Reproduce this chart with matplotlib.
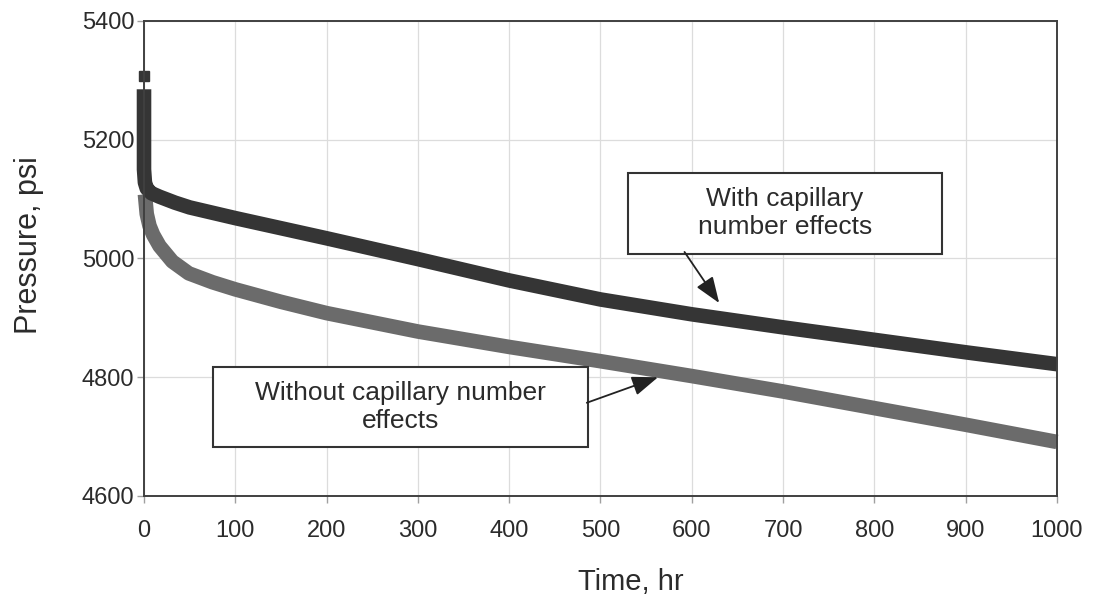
import matplotlib
matplotlib.use("Agg")
import matplotlib.pyplot as plt
import matplotlib.patches as patches

plt.rcParams['font.family'] = ['Liberation Sans', 'DejaVu Sans']

# values
# with capillary number effects (dark)
t_with = [0, 0, 1, 3, 8, 17, 34, 50, 100, 150, 200, 300, 400, 500, 600, 700, 800, 900, 1000]
p_with = [5285, 5150, 5128, 5118, 5110, 5104, 5094, 5086, 5068, 5051, 5034, 4999, 4963, 4931,
          4906, 4884, 4863, 4842, 4822]
# isolated first point at t = 0
t_with_start = [0]
p_with_start = [5307]

# without capillary number effects (grey)
t_without = [1, 3, 6, 10, 17, 31, 49, 75, 100, 150, 200, 300, 400, 500, 600, 700, 800, 900, 1000]
p_without = [5108, 5075, 5055, 5040, 5021, 4995, 4975, 4960, 4948, 4927, 4908, 4877, 4851, 4827,
             4802, 4776, 4748, 4720, 4691]

x_ticks = list(range(0, 1001, 100))
y_ticks = [4600, 4800, 5000, 5200, 5400]

label_with = 'With capillary\nnumber effects'
label_without = 'Without capillary number\neffects'

dark = '#353535'
grey = '#6b6b6b'

fig = plt.figure(figsize=(10.96, 5.98), dpi=100)
ax = fig.add_axes([0.1314, 0.1706, 0.833, 0.7943])

ax.plot(t_without, p_without, color=grey, lw=10.5, solid_capstyle='butt',
        solid_joinstyle='round', clip_on=False, zorder=3)
ax.plot(t_with, p_with, color=dark, lw=10.5, solid_capstyle='butt',
        solid_joinstyle='round', clip_on=False, zorder=4)
ax.plot(t_with_start, p_with_start, 's', color=dark, ms=7.5, mec=dark, clip_on=False, zorder=4)

ax.set_xlim(0, 1000)
ax.set_ylim(4600, 5400)
ax.set_xticks(x_ticks)
ax.set_yticks(y_ticks)
ax.grid(True, color='#dcdcdc', lw=0.9)
ax.set_axisbelow(True)

for s in ax.spines.values():
    s.set_color('#404040')
    s.set_linewidth(1.4)
    s.set_zorder(5)

ax.tick_params(axis='both', direction='out', length=5, width=1, color='#a0a0a0',
               labelsize=17, labelcolor='#2b2b2b')
ax.tick_params(axis='x', pad=12)
ax.tick_params(axis='y', pad=2)

ax.set_xlabel('Time, hr', fontsize=21, color='#2b2b2b')
ax.set_ylabel('Pressure, psi', fontsize=22, color='#2b2b2b')
ax.xaxis.set_label_coords(0.533, -0.152)
ax.yaxis.set_label_coords(-0.11, 0.528)

# annotation boxes
box1 = patches.Rectangle((530, 5008), 344, 136, fill=True, facecolor='white',
                         edgecolor='#333333', lw=1.5, zorder=6)
ax.add_patch(box1)
ax.text(702, 5076, label_with, ha='center', va='center', fontsize=19,
        color='#2b2b2b', linespacing=1.2, zorder=7)
ax.annotate('', xy=(630, 4925), xytext=(592, 5011),
            arrowprops=dict(arrowstyle='-|>,head_length=0.8,head_width=0.3', color='#222222',
                            lw=1.3, mutation_scale=20, shrinkA=0, shrinkB=0), zorder=7)

box2 = patches.Rectangle((75.5, 4682), 410.5, 135, fill=True, facecolor='white',
                         edgecolor='#333333', lw=1.5, zorder=6)
ax.add_patch(box2)
ax.text(281, 4750, label_without, ha='center', va='center', fontsize=19,
        color='#2b2b2b', linespacing=1.2, zorder=7)
ax.annotate('', xy=(563, 4800), xytext=(485, 4757),
            arrowprops=dict(arrowstyle='-|>,head_length=0.8,head_width=0.3', color='#222222',
                            lw=1.3, mutation_scale=20, shrinkA=0, shrinkB=0), zorder=7)

fig.savefig('out.png', dpi=100, facecolor='white')
